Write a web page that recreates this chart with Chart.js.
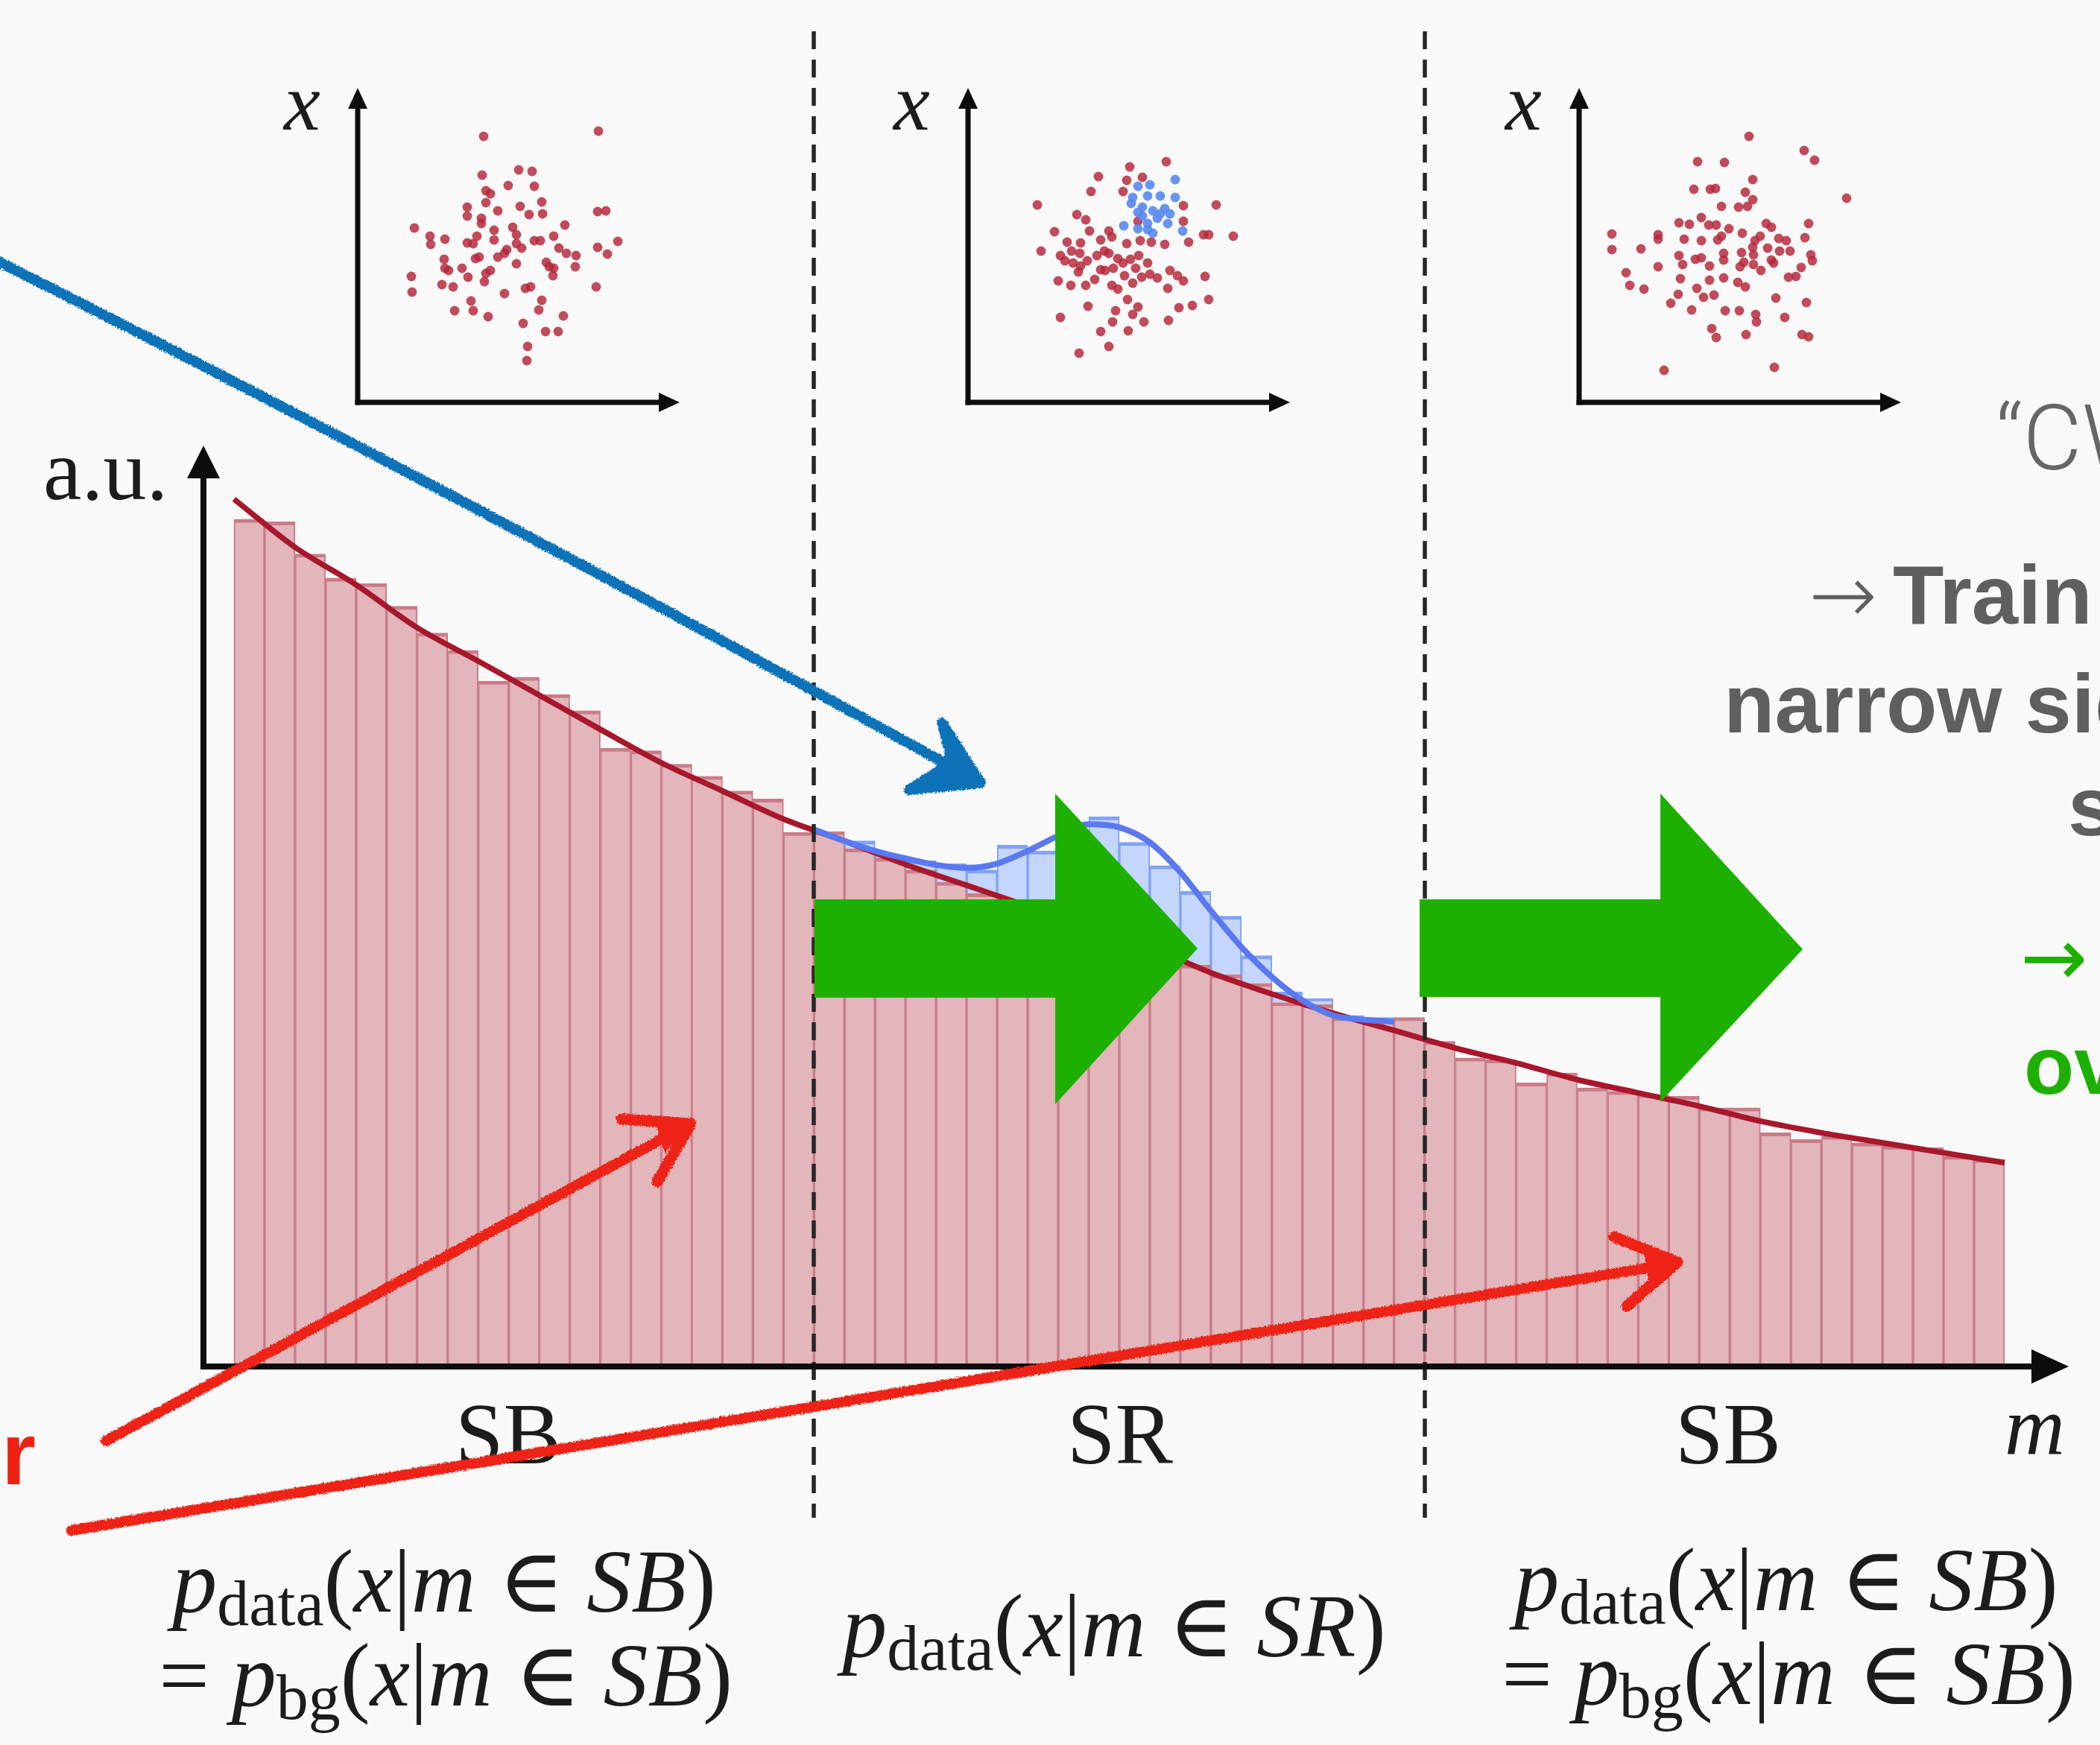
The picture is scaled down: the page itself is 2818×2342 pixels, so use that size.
<!DOCTYPE html>
<html><head><meta charset="utf-8">
<script src="https://cdn.jsdelivr.net/npm/chart.js@4.4.1/dist/chart.umd.min.js"></script>
<style>
html,body{margin:0;padding:0;background:#f9f9f9;overflow:hidden;}
#wrap{position:relative;width:2818px;height:2342px;overflow:hidden;background:#f9f9f9;}
canvas{position:absolute;}
#ov{position:absolute;left:0;top:0;}
.serif{font-family:"Liberation Serif","DejaVu Serif",serif;fill:#1c1c1c;}
.gray{font-family:"Liberation Sans",Arial,sans-serif;font-weight:bold;fill:#5f5f5f;}
</style></head><body>
<div id="wrap">
<canvas id="main" width="2818" height="2342" style="left:0;top:0"></canvas>
<canvas id="in1" width="480" height="460" style="left:460px;top:100px"></canvas>
<canvas id="in2" width="480" height="460" style="left:1279px;top:100px"></canvas>
<canvas id="in3" width="480" height="460" style="left:2099px;top:100px"></canvas>
<svg id="ov" width="2818" height="2342" xmlns="http://www.w3.org/2000/svg">
<defs>
<filter id="rough" x="-5%" y="-5%" width="110%" height="110%">
<feTurbulence type="fractalNoise" baseFrequency="0.45" numOctaves="2" seed="4" result="n"/>
<feDisplacementMap in="SourceGraphic" in2="n" scale="6" xChannelSelector="R" yChannelSelector="G"/>
</filter>
</defs>
<!-- inset axis labels -->
<text class="serif" x="381" y="174" font-size="110" font-style="italic">x</text>
<text class="serif" x="1199" y="174" font-size="110" font-style="italic">x</text>
<text class="serif" x="2020" y="174" font-size="110" font-style="italic">x</text>
<!-- main axis labels -->
<text class="serif" x="58" y="670" font-size="116">a.u.</text>
<text class="serif" x="2690" y="1952" font-size="112" font-style="italic">m</text>
<text class="serif" x="682" y="1964" font-size="116" text-anchor="middle">SB</text>
<text class="serif" x="1503" y="1964" font-size="116" text-anchor="middle">SR</text>
<text class="serif" x="2319" y="1964" font-size="116" text-anchor="middle">SB</text>
<!-- formulas -->
<text class="serif" x="596" y="2163" font-size="120" text-anchor="middle"><tspan font-style="italic">p</tspan><tspan font-size="86" dy="18">data</tspan><tspan dy="-18">(</tspan><tspan font-style="italic">x</tspan>|<tspan font-style="italic">m</tspan> ∈ <tspan font-style="italic">SB</tspan>)</text>
<text class="serif" x="598" y="2289" font-size="120" text-anchor="middle">= <tspan font-style="italic">p</tspan><tspan font-size="86" dy="18">bg</tspan><tspan dy="-18">(</tspan><tspan font-style="italic">x</tspan>|<tspan font-style="italic">m</tspan> ∈ <tspan font-style="italic">SB</tspan>)</text>
<text class="serif" x="1495" y="2223" font-size="120" text-anchor="middle"><tspan font-style="italic">p</tspan><tspan font-size="86" dy="18">data</tspan><tspan dy="-18">(</tspan><tspan font-style="italic">x</tspan>|<tspan font-style="italic">m</tspan> ∈ <tspan font-style="italic">SR</tspan>)</text>
<text class="serif" x="2397" y="2161" font-size="120" text-anchor="middle"><tspan font-style="italic">p</tspan><tspan font-size="86" dy="18">data</tspan><tspan dy="-18">(</tspan><tspan font-style="italic">x</tspan>|<tspan font-style="italic">m</tspan> ∈ <tspan font-style="italic">SB</tspan>)</text>
<text class="serif" x="2400" y="2287" font-size="120" text-anchor="middle">= <tspan font-style="italic">p</tspan><tspan font-size="86" dy="18">bg</tspan><tspan dy="-18">(</tspan><tspan font-style="italic">x</tspan>|<tspan font-style="italic">m</tspan> ∈ <tspan font-style="italic">SB</tspan>)</text>
<!-- right side text (cropped) -->
<text x="2678" y="630" font-family="Roboto,'Liberation Sans',sans-serif" font-weight="300" font-size="122" fill="#666">“CWoLa”</text>
<text x="2427" y="836" font-family="'DejaVu Sans',sans-serif" font-weight="200" font-size="110" fill="#5f5f5f">→</text>
<text class="gray" x="2540" y="837" font-size="112">Train on</text>
<text class="gray" x="2313" y="983" font-size="112">narrow sideband</text>
<text class="gray" x="2775" y="1121" font-size="112">samples</text>
<text x="2711" y="1322" font-family="'DejaVu Sans',sans-serif" font-size="108" fill="#1eb000">→</text>
<text x="2716" y="1468" font-family="'Liberation Sans',Arial,sans-serif" font-weight="bold" font-size="110" fill="#1eb000">overfitting</text>
<text x="2" y="1992" font-family="'Liberation Sans',Arial,sans-serif" font-weight="bold" font-size="118" fill="#ee2212">r</text>
<!-- green arrows -->
<polygon fill="#1eb000" points="1093,1207 1416,1207 1416,1065 1607,1273 1416,1482 1416,1339 1093,1339"/>
<polygon fill="#1eb000" points="1905,1207 2228,1207 2228,1065 2419,1274 2228,1479 2228,1338 1905,1338"/>
<!-- hand-drawn arrows -->
<g filter="url(#rough)">
<path d="M-4,350 Q650,680 1296,1040" stroke="#0a72b8" stroke-width="14" fill="none" stroke-linecap="round"/>
<polygon points="1316,1051 1264,970 1276,1014 1258,1036 1220,1060" fill="#0a72b8" stroke="#0a72b8" stroke-width="14" stroke-linejoin="round"/>
<path d="M142,1934 L915,1514" stroke="#ee2212" stroke-width="14" fill="none" stroke-linecap="round"/>
<path d="M834,1502 L927,1508 L882,1586" stroke="#ee2212" stroke-width="15" fill="none" stroke-linecap="round" stroke-linejoin="round"/>
<polygon points="927,1508 880,1508 892,1548" fill="#ee2212"/>
<path d="M96,2054 L2238,1697" stroke="#ee2212" stroke-width="14" fill="none" stroke-linecap="round"/>
<path d="M2166,1660 L2251,1694 L2183,1753" stroke="#ee2212" stroke-width="15" fill="none" stroke-linecap="round" stroke-linejoin="round"/>
<polygon points="2251,1694 2206,1683 2212,1718" fill="#ee2212"/>
</g>
</svg>
</div>
<script>
// ---------- DATA ----------
// histogram bin centres (mass, arbitrary units)
const mBins = [0.5,1.5,2.5,3.5,4.5,5.5,6.5,7.5,8.5,9.5,10.5,11.5,12.5,13.5,14.5,15.5,16.5,17.5,18.5,19.5,20.5,21.5,22.5,23.5,24.5,25.5,26.5,27.5,28.5,29.5,30.5,31.5,32.5,33.5,34.5,35.5,36.5,37.5,38.5,39.5,40.5,41.5,42.5,43.5,44.5,45.5,46.5,47.5,48.5,49.5,50.5,51.5,52.5,53.5,54.5,55.5,56.5,57.5];
// background counts per bin
const bgCounts = [633,631,607,589,585,568,548,535,512,515,502,490,462,460,450,441,430,424,399,
  399.6,386.8,379.8,370.9,361.9,353.3,346.9,338.3,329.4,319.8,312.7,302.2,300,292.6,286.2,271.9,270.3,260.7,259.1,260.7,
  242.9,230.5,229.2,211.9,219.3,208.1,205.6,203.2,201.9,193.2,193.2,174.6,169.6,172.1,167.1,164.7,163.4,157.2,154.7];
// signal counts in the signal region bins
const sigBins = [19.5,20.5,21.5,22.5,23.5,24.5,25.5,26.5,27.5,28.5,29.5,30.5,31.5,32.5,33.5,34.5,35.5,36.5,37.5,38.5];
const sigCounts = [null,5.8,2.2,7,13.8,17.6,42.5,46.9,70.2,91,78.9,71.9,54.9,43.8,20.8,7.9,4.7,1.6,1.6,null];
// background fit curve
const fitM = [0,2,4,6,8,10,12,14,16,18,20,22,24,26,28,30,32,34,36,38,40,42,44,46,48,50,52,54,56,58];
const fitBg = [648,612,584,552,527,501.5,476,451,430,409,392.6,375,359.5,344,329.4,313.4,294.2,278.3,263.9,251.1,237.9,226.8,214.3,204.4,194.5,183.3,174.6,167.1,159.7,152.2];
// signal + background fit in SR
const fitSigM = [19,20,21,22,23,24,25,26,27,28,29,30,31,32,33,34,35,36,37,38];
const fitTotal = [401.2,392.6,385.2,379.5,374.7,372.5,375.7,385.2,396.4,405.1,402.8,391.6,369.3,340.5,313.4,291,273.5,262.3,259.1,257.5];
// region boundaries (SB | SR | SB)
const regionEdges = [19, 39];

// scatter insets: feature x vs feature y
const inset1Bg = [[169,357],[323,364],[167,305],[216,312],[234,310],[202,291],[237,290],[172,284],[178,280],[172,268],[247,269],[248,253],[218,263],[230,252],[188,257],[147,262],[147,250],[166,247],[166,240],[322,256],[333,257],[278,238],[76,234],[97,223],[98,212],[117,219],[147,214],[155,213],[160,223],[183,231],[183,218],[208,235],[213,225],[213,213],[220,207],[237,217],[245,217],[263,223],[270,207],[280,200],[293,197],[322,208],[335,199],[349,216],[158,193],[163,195],[188,195],[197,200],[200,205],[213,186],[253,188],[257,182],[263,180],[262,170],[292,182],[116,192],[117,180],[122,177],[140,180],[148,168],[170,162],[172,173],[178,177],[72,169],[73,148],[113,158],[128,155],[197,146],[225,153],[232,155],[320,155],[247,137],[243,124],[152,136],[155,123],[130,123],[175,115],[222,106],[276,116],[252,95],[269,95],[228,75],[227,56]];
const inset2Bg = [[266,323],[217,316],[175,303],[213,298],[234,302],[165,283],[208,283],[93,265],[333,265],[289,264],[146,252],[158,245],[228,243],[289,243],[116,229],[163,230],[189,230],[193,222],[178,218],[133,215],[151,214],[213,213],[231,217],[246,215],[264,212],[296,215],[316,225],[323,225],[356,223],[98,203],[124,197],[139,203],[141,187],[151,183],[148,175],[173,197],[183,203],[189,200],[201,193],[208,187],[218,192],[229,197],[241,187],[178,178],[184,177],[121,163],[138,157],[158,157],[193,157],[201,152],[221,160],[233,168],[244,172],[254,167],[271,177],[281,170],[289,163],[268,153],[318,169],[323,138],[301,130],[283,127],[269,110],[214,138],[228,128],[221,118],[161,129],[198,123],[194,108],[236,108],[124,114],[178,95],[215,96],[189,75],[149,66],[130,190],[160,190],[195,180],[210,170],[170,165],[150,200],[225,180]];
const inset2Sig = [[278,299],[228,290],[244,292],[221,275],[219,267],[241,277],[258,277],[278,275],[234,262],[248,257],[264,260],[271,253],[234,250],[254,247],[268,240],[209,237],[228,233],[241,232],[248,227],[288,230],[241,240],[228,255],[258,253]];
const inset3Bg = [[228,357],[302,338],[316,325],[159,323],[195,322],[233,299],[154,286],[176,286],[183,287],[223,282],[359,274],[233,272],[214,262],[226,263],[191,263],[164,248],[134,241],[148,239],[174,238],[184,238],[201,233],[251,240],[258,235],[308,240],[44,226],[106,225],[106,219],[141,219],[164,217],[186,218],[191,223],[219,227],[236,217],[243,223],[268,220],[278,217],[303,221],[44,205],[83,206],[134,197],[156,192],[164,194],[194,200],[194,191],[218,201],[233,208],[234,198],[253,207],[269,203],[283,203],[311,198],[313,190],[258,191],[261,187],[139,185],[175,183],[216,182],[221,188],[234,185],[244,177],[298,181],[106,182],[63,174],[136,166],[175,164],[194,167],[213,161],[223,155],[281,168],[291,169],[68,157],[87,152],[133,145],[123,133],[158,153],[167,141],[181,144],[264,140],[305,134],[151,124],[196,123],[215,123],[237,118],[238,108],[276,114],[178,99],[184,87],[224,91],[299,91],[308,88],[262,47],[114,43]];

// ---------- MAIN HISTOGRAM ----------
const decoPlugin = {
  id: 'deco',
  afterDatasetsDraw(chart) {
    const {ctx, chartArea: a, scales: {x}} = chart;
    ctx.save();
    // region boundaries
    ctx.setLineDash([24, 14]);
    ctx.lineWidth = 5.5;
    ctx.strokeStyle = '#262626';
    regionEdges.forEach(e => {
      const px = Math.round(x.getPixelForValue(e));
      ctx.beginPath(); ctx.moveTo(px, 42); ctx.lineTo(px, 2037); ctx.stroke();
    });
    ctx.setLineDash([]);
    // axes with arrow heads
    ctx.strokeStyle = '#0d0d0d'; ctx.fillStyle = '#0d0d0d'; ctx.lineWidth = 8;
    ctx.beginPath(); ctx.moveTo(a.left, a.bottom + 4); ctx.lineTo(a.left, a.top + 30); ctx.stroke();
    ctx.beginPath(); ctx.moveTo(a.left - 4, a.bottom); ctx.lineTo(a.right - 30, a.bottom); ctx.stroke();
    ctx.beginPath(); ctx.moveTo(a.left, a.top); ctx.lineTo(a.left - 22, a.top + 44); ctx.lineTo(a.left + 22, a.top + 44); ctx.closePath(); ctx.fill();
    ctx.beginPath(); ctx.moveTo(a.right, a.bottom); ctx.lineTo(a.right - 50, a.bottom - 23); ctx.lineTo(a.right - 50, a.bottom + 23); ctx.closePath(); ctx.fill();
    ctx.restore();
  }
};

new Chart(document.getElementById('main'), {
  type: 'bar',
  data: {
    datasets: [
      { type: 'line', label: 'S+B fit', data: fitSigM.map((m, i) => ({x: m, y: fitTotal[i]})),
        borderColor: '#5a78f0', borderWidth: 8, pointRadius: 0, fill: false,
        cubicInterpolationMode: 'monotone', stack: 'fs', order: 0 },
      { type: 'line', label: 'B fit', data: fitM.map((m, i) => ({x: m, y: fitBg[i]})),
        borderColor: '#a8172b', borderWidth: 7.5, pointRadius: 0, fill: false,
        cubicInterpolationMode: 'monotone', stack: 'fb', order: 1 },
      { type: 'bar', label: 'background', data: mBins.map((m, i) => ({x: m, y: bgCounts[i]})),
        backgroundColor: 'rgb(226,182,187)', borderColor: 'rgb(201,124,136)',
        borderWidth: {top: 5, left: 2, right: 2, bottom: 0}, borderSkipped: 'bottom',
        categoryPercentage: 1, barPercentage: 1, stack: 'h', order: 2 },
      { type: 'bar', label: 'signal', data: sigBins.map((m, i) => ({x: m, y: sigCounts[i]})),
        backgroundColor: 'rgb(196,214,251)', borderColor: 'rgb(128,162,246)',
        borderWidth: {top: 5, left: 2, right: 2, bottom: 0}, borderSkipped: 'bottom',
        categoryPercentage: 1, barPercentage: 1, stack: 'h', order: 3 }
    ]
  },
  options: {
    responsive: false, animation: false, devicePixelRatio: 1,
    layout: {padding: {left: 273, right: 42, top: 598, bottom: 508}},
    plugins: {legend: {display: false}, tooltip: {enabled: false}},
    scales: {
      x: {type: 'linear', min: -1, max: 60.1, offset: false, stacked: true, display: false},
      y: {type: 'linear', min: 0, max: 688, stacked: true, display: false}
    }
  },
  plugins: [decoPlugin]
});

// ---------- SCATTER INSETS ----------
const insetAxes = {
  id: 'insetAxes',
  afterDatasetsDraw(chart) {
    const {ctx, chartArea: a} = chart;
    ctx.save();
    ctx.strokeStyle = '#0d0d0d'; ctx.fillStyle = '#0d0d0d'; ctx.lineWidth = 7;
    ctx.beginPath(); ctx.moveTo(a.left, a.bottom + 3.5); ctx.lineTo(a.left, a.top + 20); ctx.stroke();
    ctx.beginPath(); ctx.moveTo(a.left - 3.5, a.bottom); ctx.lineTo(a.right - 20, a.bottom); ctx.stroke();
    ctx.beginPath(); ctx.moveTo(a.left, a.top); ctx.lineTo(a.left - 13, a.top + 28); ctx.lineTo(a.left + 13, a.top + 28); ctx.closePath(); ctx.fill();
    ctx.beginPath(); ctx.moveTo(a.right, a.bottom); ctx.lineTo(a.right - 28, a.bottom - 13); ctx.lineTo(a.right - 28, a.bottom + 13); ctx.closePath(); ctx.fill();
    ctx.restore();
  }
};
function inset(id, sets) {
  new Chart(document.getElementById(id), {
    type: 'scatter',
    data: {datasets: sets.map((s, k) => ({
      data: s.pts.map(p => ({x: p[0], y: p[1]})),
      backgroundColor: s.color, borderWidth: 0, pointRadius: 6.4, order: k
    }))},
    options: {
      responsive: false, animation: false, devicePixelRatio: 1,
      layout: {padding: {left: 20, top: 18, right: 28, bottom: 20}},
      plugins: {legend: {display: false}, tooltip: {enabled: false}},
      scales: {x: {min: 0, max: 432, display: false}, y: {min: 0, max: 422, display: false}}
    },
    plugins: [insetAxes]
  });
}
const redPt = 'rgba(180,36,56,0.82)', bluePt = 'rgba(88,136,240,0.9)';
inset('in1', [{pts: inset1Bg, color: redPt}]);
inset('in2', [{pts: inset2Sig, color: bluePt}, {pts: inset2Bg, color: redPt}]);
inset('in3', [{pts: inset3Bg, color: redPt}]);
</script>
</body></html>
